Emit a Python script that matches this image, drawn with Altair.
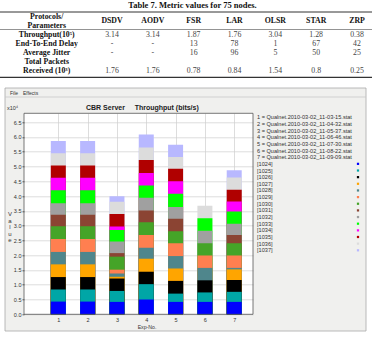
import altair as alt
import pandas as pd

# ---------------- table data ----------------
protocols = ["DSDV", "AODV", "FSR", "LAR", "OLSR", "STAR", "ZRP"]
param_lines = ["Protocols/", "Parameters", "Throughput(10\u2075)", "End-To-End Delay",
               "Average Jitter", "Total Packets", "Received (10\u00b3)"]
throughput = ["3.14", "3.14", "1.87", "1.76", "3.04", "1.28", "0.38"]
delay = ["-", "-", "13", "78", "1", "67", "42"]
jitter = ["-", "-", "16", "96", "5", "50", "25"]
packets = ["1.76", "1.76", "0.78", "0.84", "1.54", "0.8", "0.25"]

# ---------------- chart data ----------------
experiments = [1, 2, 3, 4, 5, 6, 7]
series = ["[1024]", "[1025]", "[1026]", "[1027]", "[1028]", "[1029]", "[1030]",
          "[1031]", "[1032]", "[1033]", "[1034]", "[1035]", "[1036]", "[1037]"]
colors = ["#0000ff", "#00a6a6", "#000000", "#ffa500", "#4f868c", "#ff7f50", "#45a428",
          "#8b4433", "#a0a0a0", "#00ff00", "#ff00ff", "#b00000", "#dcdcdc", "#b8b8ff"]
files = ["1 = Qualnet.2010-03-02_11-03-15.stat", "2 = Qualnet.2010-03-02_11-04-32.stat",
         "3 = Qualnet.2010-03-02_11-05-37.stat", "4 = Qualnet.2010-03-02_11-06-46.stat",
         "5 = Qualnet.2010-03-02_11-07-30.stat", "6 = Qualnet.2010-03-02_11-08-22.stat",
         "7 = Qualnet.2010-03-02_11-09-09.stat"]
# segment heights (x10^4 bits/s), series [1024]..[1037], bottom to top
exp1 = [0.43, 0.41, 0.42, 0.43, 0.42, 0.44, 0.43, 0.39, 0.39, 0.44, 0.42, 0.41, 0.42, 0.41]
exp2 = [0.43, 0.41, 0.42, 0.43, 0.42, 0.44, 0.43, 0.39, 0.39, 0.44, 0.42, 0.41, 0.42, 0.41]
exp3 = [0.42, 0.37, 0.42, 0.06, 0.11, 0.13, 0.44, 0.12, 0.39, 0.39, 0.12, 0.42, 0.42, 0.18]
exp4 = [0.50, 0.52, 0.42, 0.44, 0.37, 0.43, 0.43, 0.40, 0.43, 0.42, 0.42, 0.44, 0.42, 0.44]
exp5 = [0.42, 0.28, 0.43, 0.42, 0.42, 0.43, 0.41, 0.42, 0.40, 0.45, 0.42, 0.42, 0.40, 0.42]
exp6 = [0.42, 0.32, 0.41, 0.00, 0.42, 0.42, 0.41, 0.00, 0.43, 0.42, 0.00, 0.00, 0.42, 0.00]
exp7 = [0.42, 0.34, 0.40, 0.36, 0.05, 0.42, 0.41, 0.28, 0.38, 0.42, 0.34, 0.39, 0.42, 0.24]
y_ticks = [0.0, 0.5, 1.0, 1.5, 2.0, 2.5, 3.0, 3.5, 4.0, 4.5, 5.0, 5.5, 6.0, 6.5]

# ---------------- layout ----------------
OX, OY = 24, 113.3
W, H = 229, 201
SANS = "Liberation Sans"
SERIF = "Liberation Serif"
NB = "\u00a0"
PANEL = "#f0f0ee"
dummy = pd.DataFrame({"d": [0]})


def txt(s, x, y, size, font=SANS, weight="normal", align="left", color="#222", **kw):
    return alt.Chart(dummy).mark_text(text=s, fontSize=size, font=font, fontWeight=weight,
                                      align=align, baseline="middle", color=color, **kw).encode(
        x=alt.value(x - OX), y=alt.value(y - OY))


def rect(x1, y1, x2, y2, **kw):
    return alt.Chart(dummy).mark_rect(**kw).encode(
        x=alt.value(x1 - OX), x2=alt.value(x2 - OX), y=alt.value(y1 - OY), y2=alt.value(y2 - OY))


def hline(x1, x2, y, color, width):
    return alt.Chart(dummy).mark_rule(color=color, strokeWidth=width).encode(
        x=alt.value(x1 - OX), x2=alt.value(x2 - OX), y=alt.value(y - OY))


# ---------------- bars ----------------
rows = []
for e, vals in zip(experiments, [exp1, exp2, exp3, exp4, exp5, exp6, exp7]):
    for i, (s, v) in enumerate(zip(series, vals)):
        rows.append({"exp": e, "series": s, "idx": i, "value": v})
bars_df = pd.DataFrame(rows)

xscale = alt.Scale(domain=[0, 7.47], nice=False, zero=False)
yscale = alt.Scale(domain=[0, 6.8], nice=False)
cscale = alt.Scale(domain=series, range=colors)

bars = alt.Chart(bars_df).transform_window(
    cum="sum(value)", groupby=["exp"], sort=[alt.SortField("idx", order="ascending")],
    frame=[None, 0]
).transform_filter("datum.value > 0").mark_bar(size=15).encode(
    x=alt.X("exp:Q", scale=xscale,
            axis=alt.Axis(values=experiments, format="d", title=None, grid=True,
                          gridColor="#cfcfcf", gridWidth=0.7, domain=False,
                          ticks=False, labelFontSize=5.5, labelFont=SANS, labelColor="#333",
                          labelPadding=3)),
    y=alt.Y("cum:Q", stack=None, scale=yscale,
            axis=alt.Axis(values=y_ticks, format=".1f", title=None, grid=True,
                          gridColor="#cfcfcf", gridWidth=0.7, domain=False,
                          tickSize=2, tickColor="#555", labelPadding=1, labelFontSize=5.5,
                          labelFont=SANS, labelColor="#333")),
    y2=alt.datum(0),
    color=alt.Color("series:N", scale=cscale, legend=None),
    order=alt.Order("idx:Q", sort="descending"),
)

# ---------------- table ----------------
slots = ["r0", "r1", "r2", "r3", "r4", "r5", "r6"]
tx = alt.Scale(domain=protocols, range=[112 - OX, 357 - OX], padding=0)
ty = alt.Scale(domain=slots, range=[16.7 - OY, 70.5 - OY], padding=0)

tv_rows = []
for slot, arr in zip(["r2", "r3", "r4", "r6"], [throughput, delay, jitter, packets]):
    for p, t in zip(protocols, arr):
        tv_rows.append({"protocol": p, "slot": slot, "text": t})
tv_df = pd.DataFrame(tv_rows)
names_df = pd.DataFrame({"protocol": protocols, "slot": ["r0"] * len(protocols)})
params_df = pd.DataFrame({"slot": slots, "text": param_lines})

t_names = alt.Chart(names_df).mark_text(font=SERIF, fontWeight="bold", fontSize=7.8, dy=4.2,
                                        color="#111").encode(
    x=alt.X("protocol:N", scale=tx, axis=None), y=alt.Y("slot:N", scale=ty, axis=None),
    text="protocol:N")
t_vals = alt.Chart(tv_df).mark_text(font=SERIF, fontSize=7.8, color="#444").encode(
    x=alt.X("protocol:N", scale=tx, axis=None), y=alt.Y("slot:N", scale=ty, axis=None),
    text="text:N")
t_params = alt.Chart(params_df).mark_text(font=SERIF, fontWeight="bold", fontSize=7.8,
                                          color="#111").encode(
    x=alt.value(46.7 - OX), y=alt.Y("slot:N", scale=ty, axis=None), text="text:N")
table_layer = alt.layer(t_names, t_vals, t_params)

# ---------------- legend ----------------
leg_ids = ["l%02d" % i for i in range(len(files) + len(series))]
leg_df = pd.DataFrame({"line": leg_ids, "text": files + series,
                       "series": [None] * len(files) + series})
ly = alt.Scale(domain=leg_ids, range=[117.3 - OY, 250.3 - OY], padding=0)
leg_text = alt.Chart(leg_df).mark_text(font=SANS, fontSize=5.6, align="left", color="#333").encode(
    x=alt.value(257 - OX), y=alt.Y("line:N", scale=ly, axis=None), text="text:N")
leg_dots = alt.Chart(leg_df.iloc[len(files):]).mark_square(size=5, opacity=1).encode(
    x=alt.value(358 - OX), y=alt.Y("line:N", scale=ly, axis=None),
    color=alt.Color("series:N", scale=cscale, legend=None))
legend_layer = alt.layer(leg_text, leg_dots)

# ---------------- frame (white page around the grey application panel) ----------------
frame = [
    rect(0, 0, 372, 88, fill="white"),
    rect(0, 88, 5, 337, fill="white"),
    rect(366, 88, 372, 337, fill="white"),
    rect(0, 331, 372, 337, fill="white"),
    rect(5, 88, 366, 331, fill="white", fillOpacity=0, stroke="#a8a8a8", strokeWidth=0.8),
    hline(5, 366, 97, "#c8c8c8", 0.8),
    rect(OX, OY, OX + W, OY + H, fill="white", fillOpacity=0, stroke="#555", strokeWidth=0.8),
]

# ---------------- texts ----------------
decor = [
    hline(0, 372, 12, "#333", 1.0),
    hline(0, 372, 29.5, "#666", 0.7),
    hline(0, 372, 77.3, "#333", 1.3),
    txt("Table 7. Metric values for 75 nodes.", 192.5, 4.5, 8.5, font=SERIF, weight="bold",
        align="center", color="#111"),
    txt("File", 10, 93, 5, color="#333"),
    txt("Effects", 23, 93, 5, color="#333"),
    txt("x10\u2074", 7, 107.5, 5.5, color="#333"),
    txt("CBR Server" + NB * 5 + "Throughput (bits/s)", 86, 107.5, 7, weight="bold", color="#222"),
    txt("V\na\nl\nu\ne", 10, 214, 6, align="center", color="#333", lineBreak="\n", lineHeight=6.5),
    txt("Exp-No.", 147, 327, 5.2, align="center", color="#333"),
]

chart = alt.layer(
    bars, *frame, table_layer, legend_layer, *decor
).resolve_scale(x="independent", y="independent").properties(
    width=W, height=H, autosize=alt.AutoSizeParams(type="none"),
    padding={"left": OX, "top": OY, "right": 372 - OX - W, "bottom": 337 - OY - H},
    background=PANEL,
).configure_view(fill="white", strokeWidth=0)

chart.save("out.html", embed_options={"renderer": "svg", "actions": False})
